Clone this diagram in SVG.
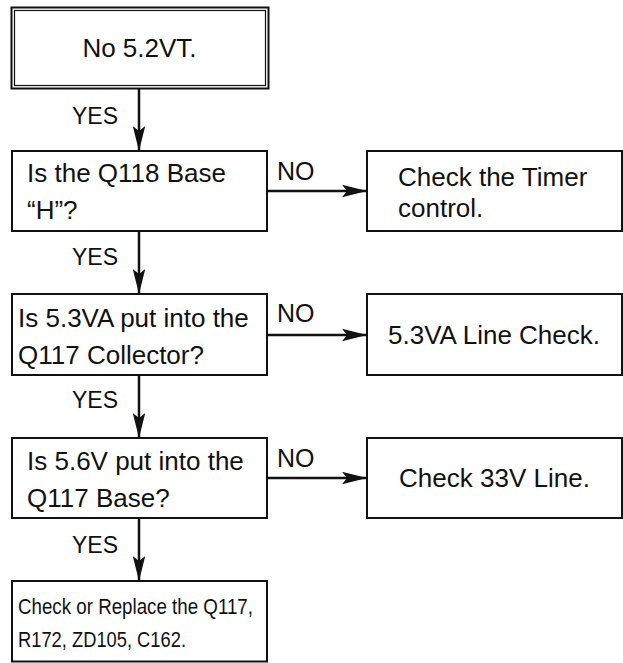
<svg xmlns="http://www.w3.org/2000/svg" width="623" height="663" viewBox="0 0 623 663">
<style>
.box{fill:#fff;stroke:#111;stroke-width:2}
.t{font-family:"Liberation Sans",Arial,Helvetica,sans-serif;font-size:26px;fill:#111}
.lbl{font-family:"Liberation Sans",Arial,Helvetica,sans-serif;fill:#111}
.c{stroke:#111;stroke-width:2.5;fill:none}
</style>
<defs>
<marker id="ah" markerWidth="10" markerHeight="5" refX="10" refY="2.5" orient="auto" markerUnits="strokeWidth" viewBox="0 0 10 5">
<path d="M0,0 L10,2.5 L0,5 L2,2.5 Z" fill="#111"/>
</marker>
</defs>
<rect width="623" height="663" fill="#fff"/>
<g id="connectors">
<line class="c" x1="139" y1="89" x2="139" y2="151" marker-end="url(#ah)"/>
<line class="c" x1="139" y1="231" x2="139" y2="294" marker-end="url(#ah)"/>
<line class="c" x1="139" y1="375" x2="139" y2="438" marker-end="url(#ah)"/>
<line class="c" x1="139" y1="518" x2="139" y2="581" marker-end="url(#ah)"/>
<line class="c" x1="267" y1="191" x2="367" y2="191" marker-end="url(#ah)"/>
<line class="c" x1="267" y1="335" x2="367" y2="335" marker-end="url(#ah)"/>
<line class="c" x1="267" y1="478" x2="367" y2="478" marker-end="url(#ah)"/>
<text class="lbl" font-size="23" x="72" y="124">YES</text>
<text class="lbl" font-size="23" x="72" y="265">YES</text>
<text class="lbl" font-size="23" x="72" y="408">YES</text>
<text class="lbl" font-size="23" x="72" y="553">YES</text>
<text class="lbl" font-size="25" x="277" y="180">NO</text>
<text class="lbl" font-size="25" x="277" y="322">NO</text>
<text class="lbl" font-size="25" x="277" y="467">NO</text>
</g>
<g id="start">
<rect x="11.5" y="7.5" width="257" height="81" fill="#fff" stroke="#111" stroke-width="2"/>
<rect x="14.5" y="10.5" width="251" height="75" fill="none" stroke="#111" stroke-width="1.2"/>
<text class="t" x="139.5" y="57" text-anchor="middle">No 5.2VT.</text>
</g>
<g id="q118">
<rect class="box" x="12" y="151" width="255" height="80"/>
<text class="t" x="27" y="182">Is the Q118 Base</text>
<text class="t" x="27" y="219">“H”?</text>
</g>
<g id="timer">
<rect class="box" x="367" y="151" width="255" height="80"/>
<text class="t" x="398" y="186">Check the Timer</text>
<text class="t" x="398" y="217">control.</text>
</g>
<g id="q117c">
<rect class="box" x="12" y="294" width="255" height="81"/>
<text class="t" x="18" y="327">Is 5.3VA put into the</text>
<text class="t" x="18" y="364">Q117 Collector?</text>
</g>
<g id="line53">
<rect class="box" x="367" y="294" width="255" height="81"/>
<text class="t" x="494" y="344" text-anchor="middle">5.3VA Line Check.</text>
</g>
<g id="q117b">
<rect class="box" x="12" y="438" width="255" height="80"/>
<text class="t" x="27" y="470">Is 5.6V put into the</text>
<text class="t" x="27" y="507">Q117 Base?</text>
</g>
<g id="line33">
<rect class="box" x="367" y="438" width="255" height="80"/>
<text class="t" x="494.5" y="487" text-anchor="middle">Check 33V Line.</text>
</g>
<g id="replace">
<rect class="box" x="12" y="581" width="255" height="80.5"/>
<text class="lbl" font-size="22" x="18" y="614" textLength="235" lengthAdjust="spacingAndGlyphs">Check or Replace the Q117,</text>
<text class="lbl" font-size="22" x="18" y="647" textLength="168" lengthAdjust="spacingAndGlyphs">R172, ZD105, C162.</text>
</g>
</svg>
